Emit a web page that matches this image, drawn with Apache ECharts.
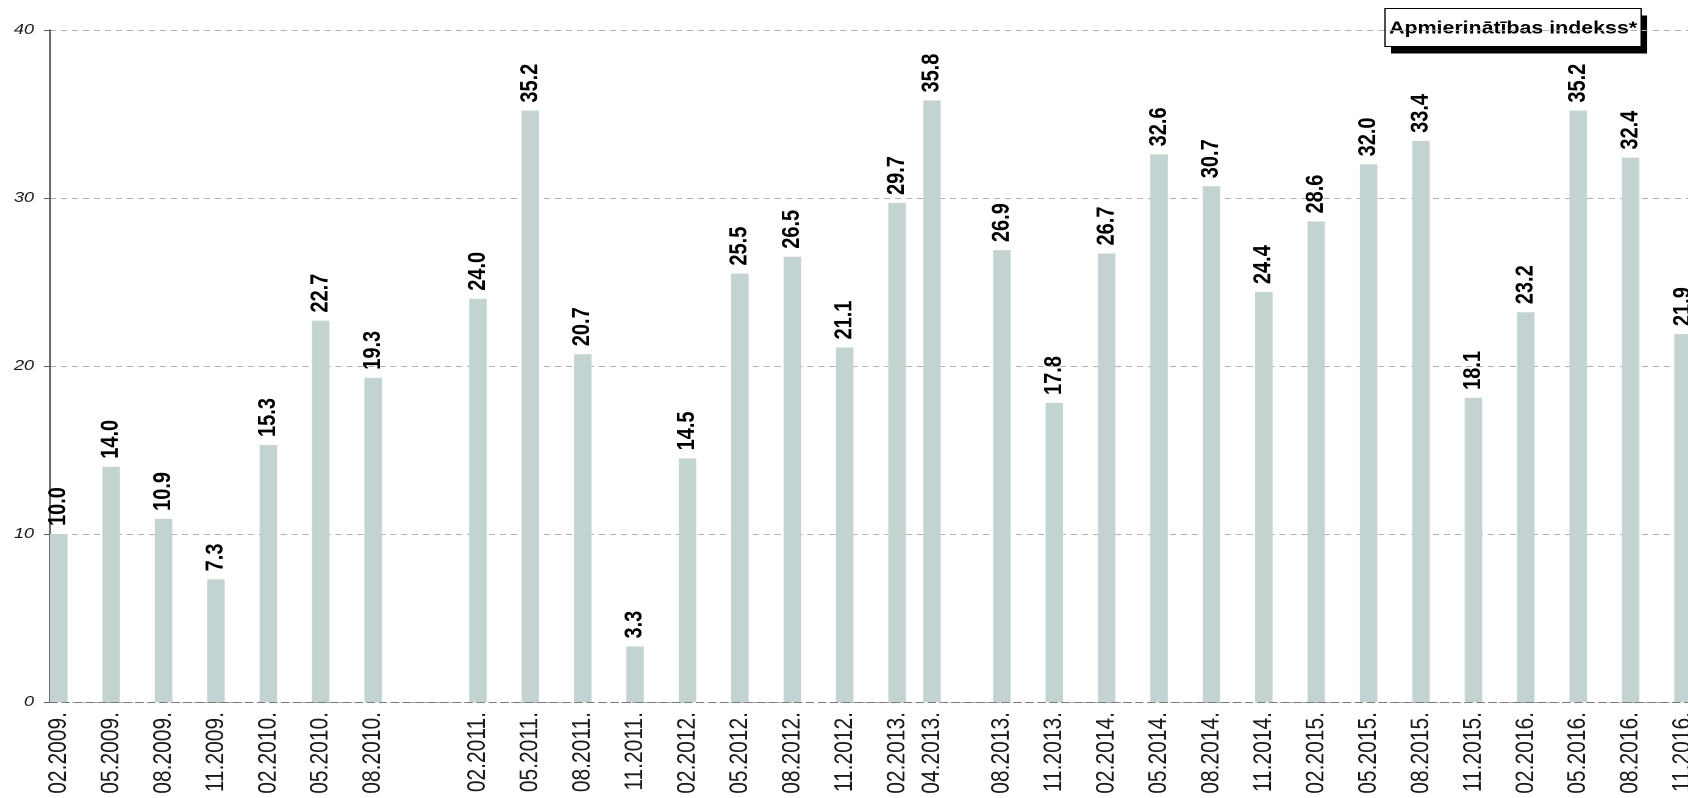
<!DOCTYPE html>
<html>
<head>
<meta charset="utf-8">
<script src="https://cdn.jsdelivr.net/npm/echarts@6/dist/echarts.min.js"></script>
<style>
  html, body { margin: 0; padding: 0; background: #fff; overflow: hidden; width: 1688px; height: 798px; }
  /* The chart is laid out on a narrower box and widened horizontally, giving the wide lettering */
  #chart { width: 1384px; height: 798px; transform: scaleX(1.2197); transform-origin: 0 0; }
</style>
</head>
<body>
<div id="chart"></div>
<script>
// Survey waves (month.year) and the satisfaction index measured in each
const surveyLabels = [
  '02.2009.', '05.2009.', '08.2009.', '11.2009.', '02.2010.', '05.2010.', '08.2010.',
  '02.2011.', '05.2011.', '08.2011.', '11.2011.', '02.2012.', '05.2012.', '08.2012.',
  '11.2012.', '02.2013.', '04.2013.', '08.2013.', '11.2013.', '02.2014.', '05.2014.',
  '08.2014.', '11.2014.', '02.2015.', '05.2015.', '08.2015.', '11.2015.', '02.2016.',
  '05.2016.', '08.2016.', '11.2016.'
];
const indexValues = [
  10.0, 14.0, 10.9, 7.3, 15.3, 22.7, 19.3,
  24.0, 35.2, 20.7, 3.3, 14.5, 25.5, 26.5,
  21.1, 29.7, 35.8, 26.9, 17.8, 26.7, 32.6,
  30.7, 24.4, 28.6, 32.0, 33.4, 18.1, 23.2,
  35.2, 32.4, 21.9
];
const yTicks = [0, 10, 20, 30, 40];
const seriesName = 'Apmierinātības indekss*';

// Monthly axis so that bars sit at their true spacing in time
function parseLabel(s) {
  const p = s.split('.');
  return { m: parseInt(p[0], 10), y: parseInt(p[1], 10) };
}
const first = parseLabel(surveyLabels[0]);
const last = parseLabel(surveyLabels[surveyLabels.length - 1]);
const months = [];
for (let y = first.y, m = first.m; y < last.y || (y === last.y && m <= last.m); ) {
  months.push((m < 10 ? '0' : '') + m + '.' + y + '.');
  m++;
  if (m > 12) { m = 1; y++; }
}
const valueByMonth = {};
surveyLabels.forEach((l, i) => { valueByMonth[l] = indexValues[i]; });
const monthData = months.map(l => (l in valueByMonth ? valueByMonth[l] : null));

const SANS = '"Liberation Sans", Arial, Helvetica, sans-serif';

const chart = echarts.init(document.getElementById('chart'), null,
  { renderer: 'canvas', devicePixelRatio: 2 });
chart.setOption({
  animation: false,
  backgroundColor: '#ffffff',
  // Boxed series caption with a hard drop shadow
  graphic: [{
    type: 'group',
    left: 1135,
    top: 8,
    z: 100,
    children: [
      { type: 'rect', shape: { x: 5, y: 7, width: 210, height: 38 }, style: { fill: '#000000' } },
      { type: 'rect', shape: { x: 0, y: 0, width: 210, height: 38 },
        style: { fill: '#ffffff', stroke: '#000000', lineWidth: 1 } },
      { type: 'text', x: 105, y: 20,
        style: { text: seriesName, fill: '#000000', font: 'bold 17.5px ' + SANS,
                 align: 'center', verticalAlign: 'middle' } }
    ]
  }],
  grid: { left: 41, right: -3, top: 30, bottom: 96, containLabel: false, outerBoundsMode: 'none' },
  xAxis: {
    type: 'category',
    data: months,
    boundaryGap: true,
    axisLine: { show: true, lineStyle: { color: '#7a7a7a', width: 1, type: [6, 4] } },
    axisTick: { show: false },
    axisLabel: {
      interval: (idx, val) => val in valueByMonth,
      rotate: 90,
      margin: 10,
      fontFamily: SANS,
      fontSize: 21,
      color: '#1a1a1a'
    },
    splitLine: { show: false }
  },
  yAxis: {
    type: 'value',
    min: yTicks[0],
    max: yTicks[yTicks.length - 1],
    interval: 10,
    axisLine: { show: true, lineStyle: { color: '#5a5a5a', width: 1.6 } },
    axisTick: { show: true, length: 5, lineStyle: { color: '#5a5a5a', width: 1 } },
    axisLabel: {
      margin: 13,
      fontFamily: SANS,
      fontSize: 15,
      fontStyle: 'italic',
      color: '#1a1a1a'
    },
    splitLine: { show: true, lineStyle: { color: '#b0b0b0', width: 1, type: [5, 4] } }
  },
  series: [{
    name: seriesName,
    type: 'bar',
    data: monthData,
    barWidth: '100%',
    itemStyle: { color: '#c3d3d1' },
    label: {
      show: true,
      position: 'top',
      distance: 8,
      rotate: 90,
      align: 'left',
      verticalAlign: 'middle',
      formatter: p => p.value.toFixed(1),
      fontFamily: SANS,
      fontSize: 20,
      fontWeight: 'bold',
      color: '#000000'
    }
  }]
});
</script>
</body>
</html>
